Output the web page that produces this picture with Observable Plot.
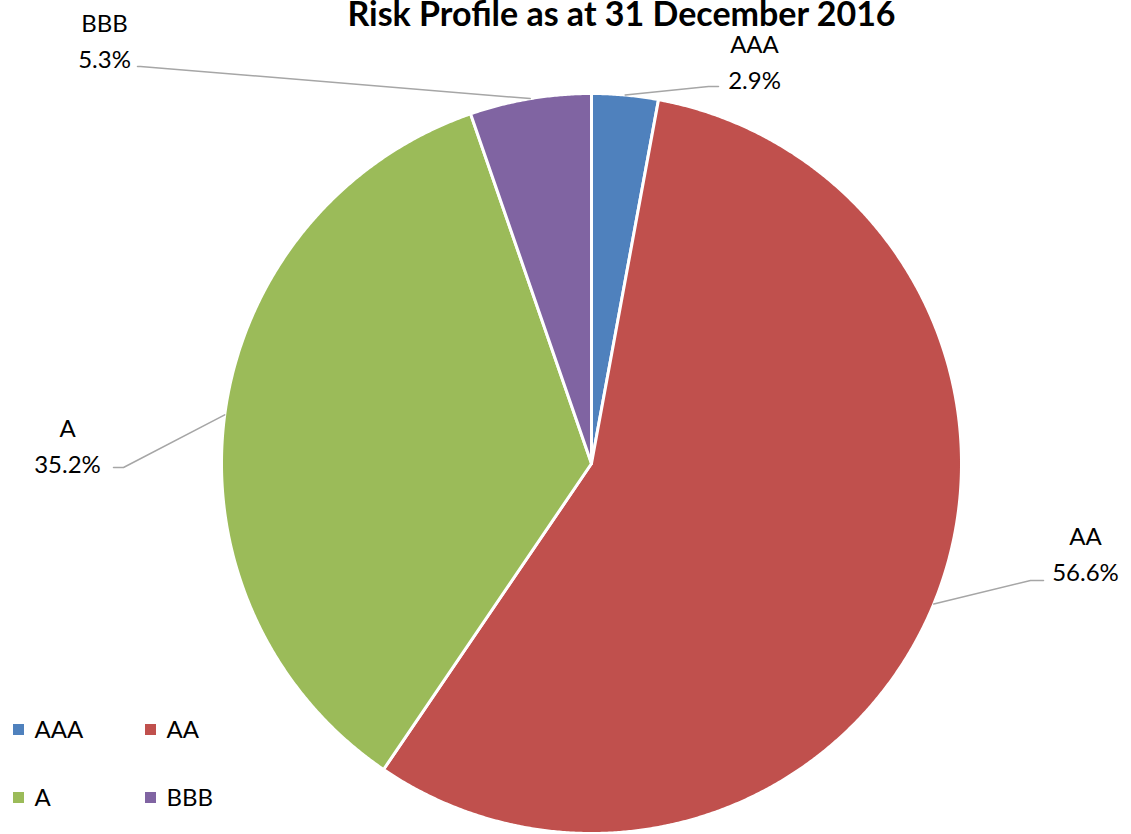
<!DOCTYPE html>
<html>
<head>
<meta charset="utf-8">
<script src="https://cdn.jsdelivr.net/npm/d3@7"></script>
<script src="https://cdn.jsdelivr.net/npm/@observablehq/plot@0.6"></script>
<style>
  html, body { margin: 0; padding: 0; background: #fff; }
  #chart svg { display: block; }
</style>
</head>
<body>
<div id="chart"></div>
<script>
// ---- data ----
const categories = ["AAA", "AA", "A", "BBB"];
const shares = [2.9, 56.6, 35.2, 5.3];
const percentLabels = ["2.9%", "56.6%", "35.2%", "5.3%"];
const colors = ["#4f81bd", "#c0504d", "#9bbb59", "#8064a2"];
const title = "Risk Profile as at 31 December 2016";

// ---- layout ----
const W = 1131, H = 834;
const cx = 591, cy = 463, R = 370;
// label text centre + leader elbow/end (best-fit placement as in the original)
const labelLayout = [
  {text: [754, 59], elbow: [708, 86], end: [718, 86]},
  {text: [1085, 551], elbow: [1030, 580], end: [1043, 580]},
  {text: [67, 443], elbow: [123, 467], end: [113, 467]},
  {text: [104, 38], elbow: [140, 66], end: [137, 66]}
];
const legendCols = [13, 145], legendRows = [730, 798];

const pie = d3.pie().sort(null).value(d => d.value);
const arcs = pie(categories.map((c, i) => ({key: c, value: shares[i], color: colors[i], label: percentLabels[i]})));
const pt = (a, r) => [cx + r * Math.sin(a), cy - r * Math.cos(a)];

// slice outlines from pie angles
const slicePts = [];
arcs.forEach(a => {
  slicePts.push({key: a.data.key, color: a.data.color, p: [cx, cy]});
  const n = Math.max(2, Math.ceil((a.endAngle - a.startAngle) / 0.005));
  for (let k = 0; k <= n; k++) {
    const ang = a.startAngle + (a.endAngle - a.startAngle) * k / n;
    slicePts.push({key: a.data.key, color: a.data.color, p: pt(ang, R)});
  }
});

// leader lines
const leaderPts = [];
arcs.forEach((a, i) => {
  const mid = (a.startAngle + a.endAngle) / 2;
  const L = labelLayout[i];
  [pt(mid, R), L.elbow, L.end].forEach(p => leaderPts.push({key: a.data.key, p}));
});

const labels = arcs.map((a, i) => ({
  text: a.data.key + "\n" + a.data.label,
  p: labelLayout[i].text
}));

const legend = categories.map((c, i) => ({
  key: c, color: colors[i],
  x: legendCols[i % 2], y: legendRows[Math.floor(i / 2)]
}));

const font = "Lato, 'Open Sans', sans-serif";

const chart = Plot.plot({
  width: W, height: H,
  margin: 0,
  x: {type: "identity", axis: null},
  y: {type: "identity", axis: null},
  style: {fontFamily: font, background: "#fff"},
  marks: [
    Plot.line(slicePts, {
      x: d => d.p[0], y: d => d.p[1], z: "key",
      fill: "color", stroke: "#fff", strokeWidth: 3,
      curve: "linear-closed", strokeLinejoin: "round"
    }),
    Plot.line(leaderPts, {
      x: d => d.p[0], y: d => d.p[1], z: "key",
      stroke: "#a6a6a6", strokeWidth: 1.5
    }),
    Plot.text(labels, {
      x: d => d.p[0], y: d => d.p[1], text: "text",
      fontSize: 24, fill: "#000", lineHeight: 1.5, textAnchor: "middle"
    }),
    Plot.text([title], {
      x: () => 621, y: () => 15, text: d => d,
      fontSize: 34, fontWeight: "bold", fill: "#000", textAnchor: "middle"
    }),
    Plot.rect(legend, {
      x1: d => d.x, x2: d => d.x + 11, y1: d => d.y - 6, y2: d => d.y + 5,
      fill: "color"
    }),
    Plot.text(legend, {
      x: d => d.x + 21, y: "y", text: "key",
      fontSize: 24, fill: "#000", textAnchor: "start"
    })
  ]
});
document.getElementById("chart").appendChild(chart);
</script>
</body>
</html>
